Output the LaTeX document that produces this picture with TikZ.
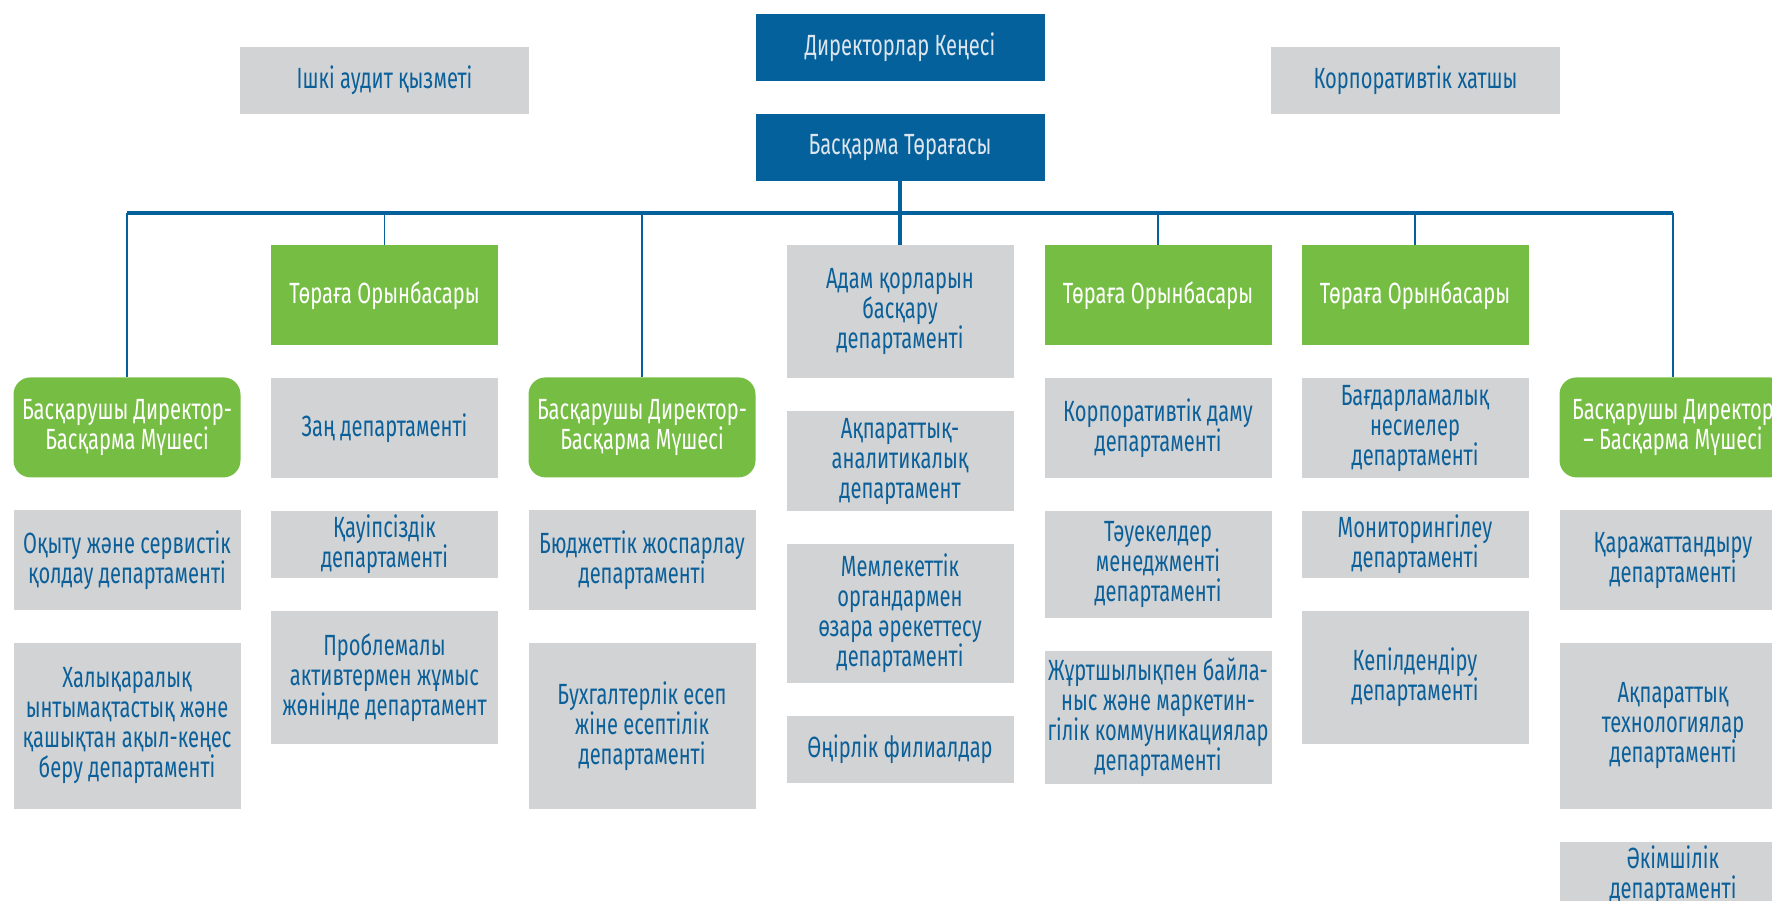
\documentclass[tikz,border=0pt]{standalone}
\usepackage{fontspec}
\setmainfont{Fira Sans}[FakeStretch=0.69]
\usetikzlibrary{positioning}

\definecolor{boardblue}{HTML}{04619B}
\definecolor{leafgreen}{HTML}{76BE43}
\definecolor{unitgray}{HTML}{D1D3D4}
\definecolor{unittext}{HTML}{0C609A}
\definecolor{paletext}{HTML}{DDE5EE}

\begin{document}
\begin{tikzpicture}[x=0.5pt,y=-0.5pt,node distance=16pt,
    box/.style={inner sep=0pt,align=center,font=\fontsize{14.6pt}{15pt}\selectfont},
    chief/.style={box,fill=boardblue,text=paletext,minimum width=144.5pt,minimum height=33.5pt},
    side/.style={box,fill=unitgray,text=unittext,minimum width=144.5pt,minimum height=33.5pt},
    deputy/.style={box,fill=leafgreen,text=white,minimum width=113.5pt,minimum height=50pt},
    member/.style={deputy,rounded corners=8.5pt},
    dept/.style={box,fill=unitgray,text=unittext,minimum width=113.5pt,minimum height=50pt},
    h2/.style={minimum height=33.5pt},
    h4/.style={minimum height=66.5pt},
    h5/.style={minimum height=83pt},
    trunk/.style={draw=boardblue,line width=1.75pt},
    branch/.style={draw=boardblue,line width=0.65pt}]
    \useasboundingbox (0,0) rectangle (1772,900);
    \clip (0,0) rectangle (1772,900);

    % top
    \node[chief] (board) at (900,47.5) {Директорлар Кеңесі};
    \node[chief] (chair) [below=of board] {Басқарма Төрағасы};
    \node[side]  (audit) at (384.5,80.5)  {Ішкі аудит қызметі};
    \node[side]  (secr)  at (1415.5,80.5) {Корпоративтік хатшы};

    % column heads
    \node[member,anchor=north]  (md1)  at (127,377)  {Басқарушы Директор-\\Басқарма Мүшесі};
    \node[deputy,anchor=north]  (dep1) at (384.5,245) {Төраға Орынбасары};
    \node[member,anchor=north]  (md2)  at (642,377)  {Басқарушы Директор-\\Басқарма Мүшесі};
    \node[dept,h4,anchor=north] (hr)   at (900,245)  {Адам қорларын\\басқару\\департаменті};
    \node[deputy,anchor=north]  (dep2) at (1158,245) {Төраға Орынбасары};
    \node[deputy,anchor=north]  (dep3) at (1415,245) {Төраға Орынбасары};
    \node[member,anchor=north]  (md3)  at (1673,377) {Басқарушы Директор\\– Басқарма Мүшесі};

    % departments
    \node[dept]    (train)  [below=of md1]    {Оқыту және сервистік\\қолдау департаменті};
    \node[dept,h5] (intl)   [below=of train]  {Халықаралық\\ынтымақтастық және\\қашықтан ақыл-кеңес\\беру департаменті};

    \node[dept]    (law)    [below=of dep1]   {Заң департаменті};
    \node[dept,h2] (secur)  [below=of law]    {Қауіпсіздік\\департаменті};
    \node[dept,h4] (npl)    [below=of secur]  {Проблемалы\\активтермен жұмыс\\жөнінде департамент};

    \node[dept]    (budget) [below=of md2]    {Бюджеттік жоспарлау\\департаменті};
    \node[dept,h5] (acct)   [below=of budget] {Бухгалтерлік есеп\\жіне есептілік\\департаменті};

    \node[dept]    (anal)   [below=of hr]     {Ақпараттық-\\аналитикалық\\департамент};
    \node[dept,minimum height=69.5pt] (gov) [below=of anal] {Мемлекеттік\\органдармен\\өзара әрекеттесу\\департаменті};
    \node[dept,h2] (branches) [below=of gov]  {Өңірлік филиалдар};

    \node[dept]    (corp)   [below=of dep2]   {Корпоративтік даму\\департаменті};
    \node[dept,minimum height=53.5pt] (risk) [below=of corp] {Тәуекелдер\\менеджменті\\департаменті};
    \node[dept,h4] (pr)     [below=of risk]   {Жұртшылықпен байла-\\ныс және маркетин-\\гілік коммуникациялар\\департаменті};

    \node[dept]    (loans)  [below=of dep3]   {Бағдарламалық\\несиелер\\департаменті};
    \node[dept,h2] (monit)  [below=of loans]  {Мониторингілеу\\департаменті};
    \node[dept,h4] (guar)   [below=of monit]  {Кепілдендіру\\департаменті};

    \node[dept]    (fund)   [below=of md3]    {Қаражаттандыру\\департаменті};
    \node[dept,h5] (it)     [below=of fund]   {Ақпараттық\\технологиялар\\департаменті};
    \node[dept,h2] (admin)  [below=of it]     {Әкімшілік\\департаменті};

    % lines
    \coordinate (busL) at (127,213);
    \coordinate (busR) at (1673,213);
    \draw[trunk] (busL) -- (busR);
    \draw[trunk] (chair) -- (hr);
    \foreach \n in {md1,dep1,md2,dep2,dep3,md3}
        \draw[branch] (\n.north) -- (\n.north |- busL);
\end{tikzpicture}
\end{document}
